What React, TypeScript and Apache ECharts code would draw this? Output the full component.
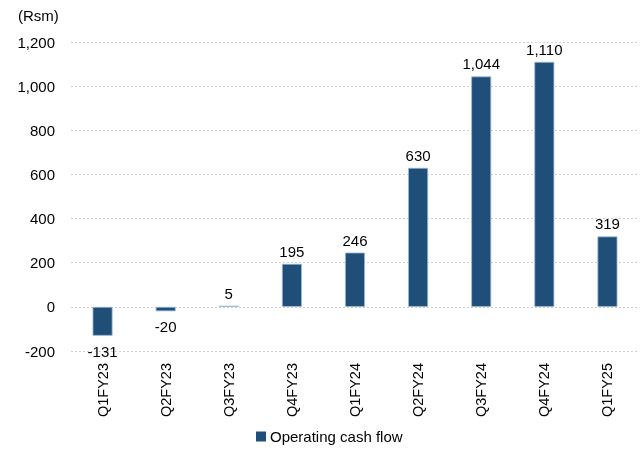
import React, { useEffect, useRef } from "react";
import * as echarts from "echarts";

const categories = ["Q1FY23", "Q2FY23", "Q3FY23", "Q4FY23", "Q1FY24", "Q2FY24", "Q3FY24", "Q4FY24", "Q1FY25"];
const operatingCashFlow = [-131, -20, 5, 195, 246, 630, 1044, 1110, 319];
const seriesName = "Operating cash flow";
const unitLabel = "(Rsm)";

const FONT = "'Liberation Sans', Arial, sans-serif";

export default function App() {
  const ref = useRef<HTMLDivElement>(null);
  useEffect(() => {
    if (!ref.current) return;
    document.body.style.margin = "0";
    document.body.style.overflow = "hidden";
    const chart = echarts.init(ref.current, undefined, { renderer: "svg" });
    chart.setOption({
      animation: false,
      textStyle: { fontFamily: FONT },
      graphic: [
        {
          type: "text",
          left: 18,
          top: 8,
          style: { text: unitLabel, fontFamily: FONT, fontSize: 15, fill: "#000" },
        },
      ],
      legend: {
        top: 424,
        left: 251,
        itemWidth: 10,
        itemHeight: 10,
        itemGap: 4,
        icon: "rect",
        itemStyle: { borderWidth: 0 },
        textStyle: { fontFamily: FONT, fontSize: 15, color: "#000", padding: [0, 0, 0, -1] },
        data: [seriesName],
      },
      grid: { left: 71, right: 1, top: 42, bottom: 99 },
      xAxis: {
        type: "category",
        data: categories,
        axisLine: { show: false },
        axisTick: { show: false },
        axisLabel: { rotate: 90, fontFamily: FONT, fontSize: 14.5, color: "#000", margin: 12 },
      },
      yAxis: {
        type: "value",
        min: -200,
        max: 1200,
        interval: 200,
        axisLine: { show: false },
        axisTick: { show: false },
        axisLabel: {
          fontFamily: FONT,
          fontSize: 15,
          color: "#000",
          margin: 16,
          formatter: (v: number) => v.toLocaleString("en-US"),
        },
        splitLine: { lineStyle: { color: "#d0d0d0", type: [2, 2], width: 1 } },
      },
      series: [
        {
          name: seriesName,
          type: "bar",
          data: operatingCashFlow.map((v) => ({
            value: v,
            label: { position: v < 0 ? "bottom" : "top", distance: v < 0 ? 8 : 5 },
          })),
          barWidth: 20,
          itemStyle: { color: "#1F4E79", borderColor: "#9dbbd8", borderWidth: 0.8 },
          label: {
            show: true,
            fontFamily: FONT,
            fontSize: 15,
            color: "#000",
            formatter: (p: any) => Number(p.value).toLocaleString("en-US"),
          },
        },
      ],
    });
    return () => chart.dispose();
  }, []);
  return (
    <div
      ref={ref}
      style={{ position: "fixed", left: 0, top: 0, width: 640, height: 450 }}
    />
  );
}
